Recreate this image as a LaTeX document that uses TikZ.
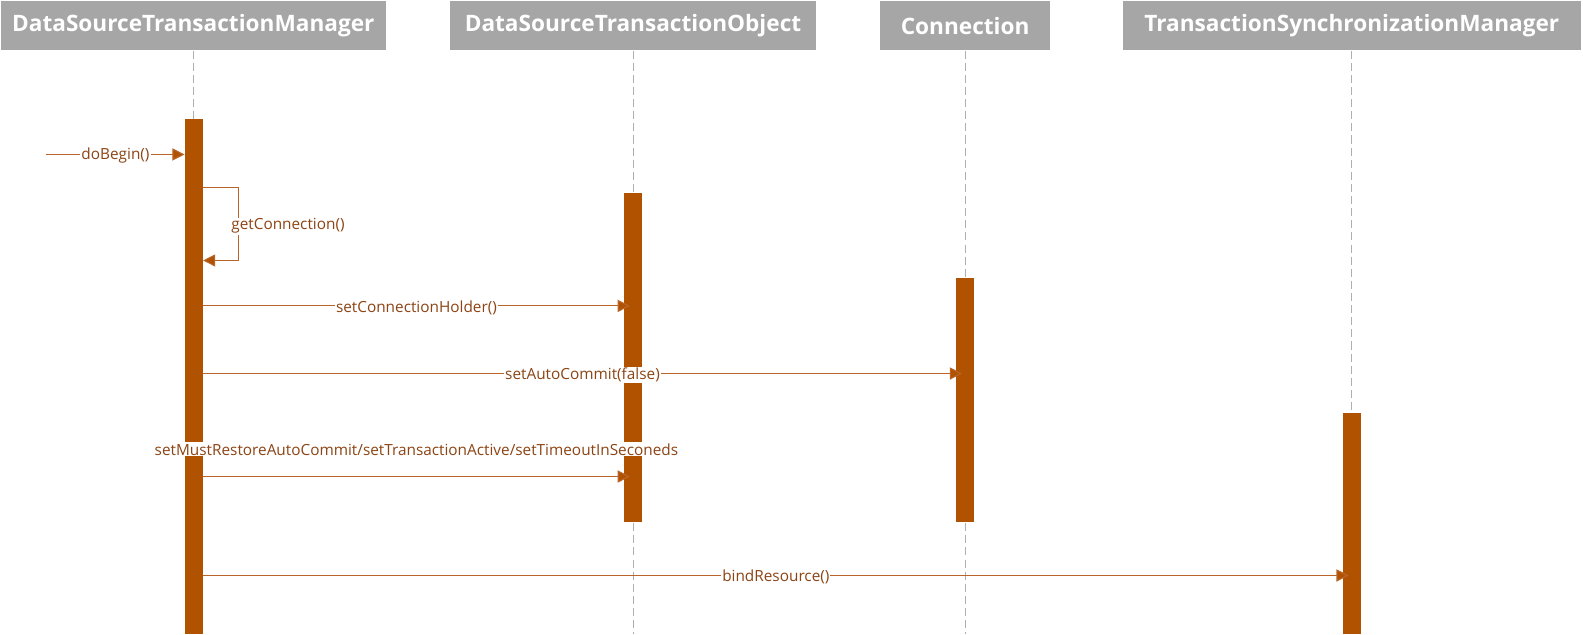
\documentclass[tikz,border=0pt]{standalone}
\usepackage{fontspec}
\setmainfont{Open Sans}
\usetikzlibrary{arrows.meta}
\definecolor{barc}{RGB}{176,82,0}
\definecolor{msgc}{RGB}{185,100,40}
\definecolor{hdrc}{RGB}{166,166,166}
\definecolor{txtc}{RGB}{140,68,20}
\definecolor{lifec}{RGB}{175,175,175}
\newcommand{\hdrtext}[1]{\raisebox{-3pt}{#1}}
\tikzset{
  hdrbox/.style={fill=hdrc, text=white, font=\bfseries\fontsize{22.4}{26}\selectfont, inner sep=0pt, minimum height=49pt},
  actbar/.style={fill=barc, draw=none, minimum width=18pt, inner sep=0pt, anchor=north},
  lifeline/.style={draw=lifec, line width=0.8pt, dash pattern=on 8pt off 4pt},
  msg/.style={draw=msgc, line width=1.1pt, -{Triangle[length=12pt,width=12pt,fill=barc]}},
  lbl/.style={fill=white, text=txtc, font=\fontsize{15.2}{18}\selectfont, inner sep=1pt},
}
\begin{document}
\begin{tikzpicture}[x=1pt,y=-1pt]
\useasboundingbox (0,0) rectangle (1568,628);
% headers
\node[hdrbox, minimum width=381pt] (h1) at (191.5,25.5) {\hdrtext{DataSourceTransactionManager}};
\node[hdrbox, minimum width=362pt] (h2) at (627,25.5) {\hdrtext{DataSourceTransactionObject}};
\node[hdrbox, minimum width=168pt] (h3) at (956,25.5) {\hdrtext{Connection}};
\node[hdrbox, minimum width=454pt] (h4) at (1339,25.5) {\hdrtext{TransactionSynchronizationManager}};
% lifeline ends
\coordinate (e1) at (191.5,628);
\coordinate (e2) at (627,628);
\coordinate (e3) at (956,628);
\coordinate (e4) at (1339,628);
\draw[lifeline] (h1.south) -- (e1);
\draw[lifeline] (h2.south) -- (e2);
\draw[lifeline] (h3.south) -- (e3);
\draw[lifeline] (h4.south) -- (e4);
% activation bars
\node[actbar, minimum height=510pt] (b1) at (192,118) {};
\node[actbar, minimum height=326pt] (b2) at (627,191) {};
\node[actbar, minimum height=242pt] (b3) at (956,275) {};
\node[actbar, minimum height=219pt] (b4) at (1339,409) {};
% message rows
\coordinate (y0) at (0,153);
\coordinate (y1a) at (0,186);
\coordinate (y1b) at (0,258);
\coordinate (y2) at (0,303);
\coordinate (y3) at (0,370);
\coordinate (y4) at (0,472);
\coordinate (y5) at (0,570);
\coordinate (start) at (46,153);
\coordinate (loopx) at (236,0);
% doBegin
\draw[msg] (start) -- node[lbl, yshift=-1.5pt] {doBegin()} (b1.west |- y0);
% getConnection self call
\draw[msg] (b1.east |- y1a) -- (loopx |- y1a) -- (loopx |- y1b) -- (b1.east |- y1b);
\node[lbl, anchor=west] (lgc) at (228,224) {getConnection()};
% setConnectionHolder
\draw[msg] (b1.east |- y2) -- node[lbl, yshift=-1.5pt] {setConnectionHolder()} ([xshift=6pt]b2.west |- y2);
% setAutoCommit
\draw[msg] (b1.east |- y3) -- node[lbl, yshift=-1.5pt] {setAutoCommit(false)} ([xshift=6pt]b3.west |- y3);
% setMustRestore...
\draw[msg] (b1.east |- y4) -- node[lbl, yshift=27pt] {setMustRestoreAutoCommit/setTransactionActive/setTimeoutInSeconeds} ([xshift=6pt]b2.west |- y4);
% bindResource
\draw[msg] (b1.east |- y5) -- node[lbl, yshift=-1.5pt] {bindResource()} ([xshift=6pt]b4.west |- y5);
\end{tikzpicture}
\end{document}
